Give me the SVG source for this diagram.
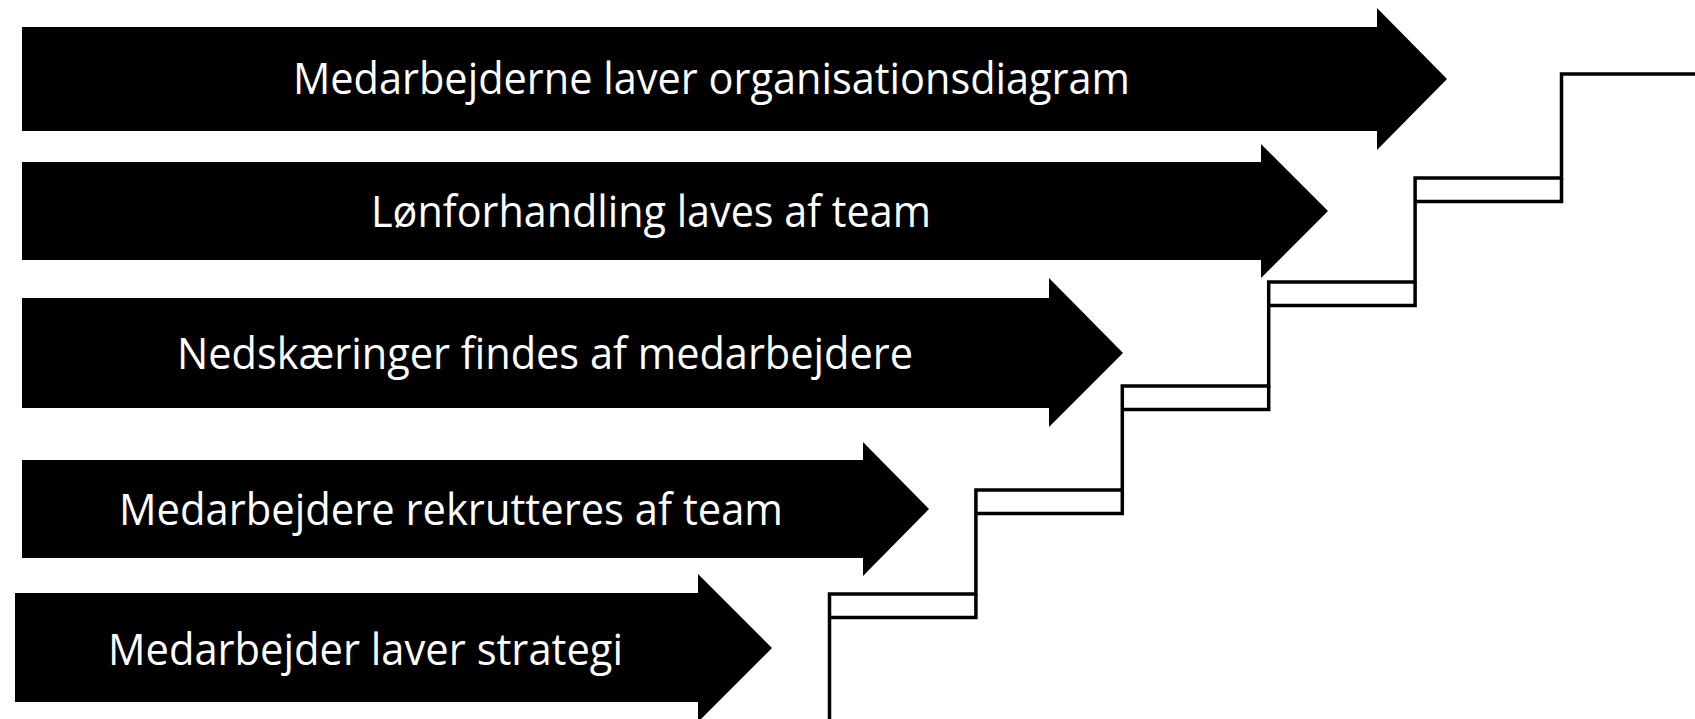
<svg xmlns="http://www.w3.org/2000/svg" width="1695" height="719" viewBox="0 0 1695 719">
<style>
.arrow{fill:#000;stroke:none}
.lbl{fill:#fff;font-family:"Open Sans","Noto Sans","Liberation Sans",sans-serif;font-size:44px}
.stair{fill:none;stroke:#000;stroke-width:3.5;stroke-linejoin:miter;stroke-linecap:butt}
</style>
<rect x="0" y="0" width="1695" height="719" fill="#fff"/>
<g id="step1">
<polygon class="arrow" points="22,27 1377,27 1377,8 1447,79 1377,150 1377,131 22,131"/>
<text class="lbl" x="293" y="94" textLength="837" lengthAdjust="spacingAndGlyphs">Medarbejderne laver organisationsdiagram</text>
</g>
<g id="step2">
<polygon class="arrow" points="22,162 1261,162 1261,144 1328,211 1261,278 1261,260 22,260"/>
<text class="lbl" x="371" y="226.5" textLength="560" lengthAdjust="spacingAndGlyphs">Lønforhandling laves af team</text>
</g>
<g id="step3">
<polygon class="arrow" points="22,298 1049,298 1049,278 1123,353 1049,427 1049,408 22,408"/>
<text class="lbl" x="177" y="368.5" textLength="736" lengthAdjust="spacingAndGlyphs">Nedskæringer findes af medarbejdere</text>
</g>
<g id="step4">
<polygon class="arrow" points="22,460 863,460 863,442 929,509 863,576 863,558 22,558"/>
<text class="lbl" x="119" y="525" textLength="664" lengthAdjust="spacingAndGlyphs">Medarbejdere rekrutteres af team</text>
</g>
<g id="step5">
<polygon class="arrow" points="15,593 698,593 698,574 772,648 698,722 698,702 15,702"/>
<text class="lbl" x="108" y="665" textLength="515" lengthAdjust="spacingAndGlyphs">Medarbejder laver strategi</text>
</g>
<g id="stairs">
<path class="stair" d="M829.5,720 V594 H975.9 V490 H1122.3 V386 H1268.7 V282 H1415.1 V178 H1561.5 V74 H1696"/>
<path class="stair" d="M829.5,617.5 H975.9 V594 M975.9,513.5 H1122.3 V490 M1122.3,409.5 H1268.7 V386 M1268.7,305.5 H1415.1 V282 M1415.1,201.5 H1561.5 V178"/>
</g>
</svg>
